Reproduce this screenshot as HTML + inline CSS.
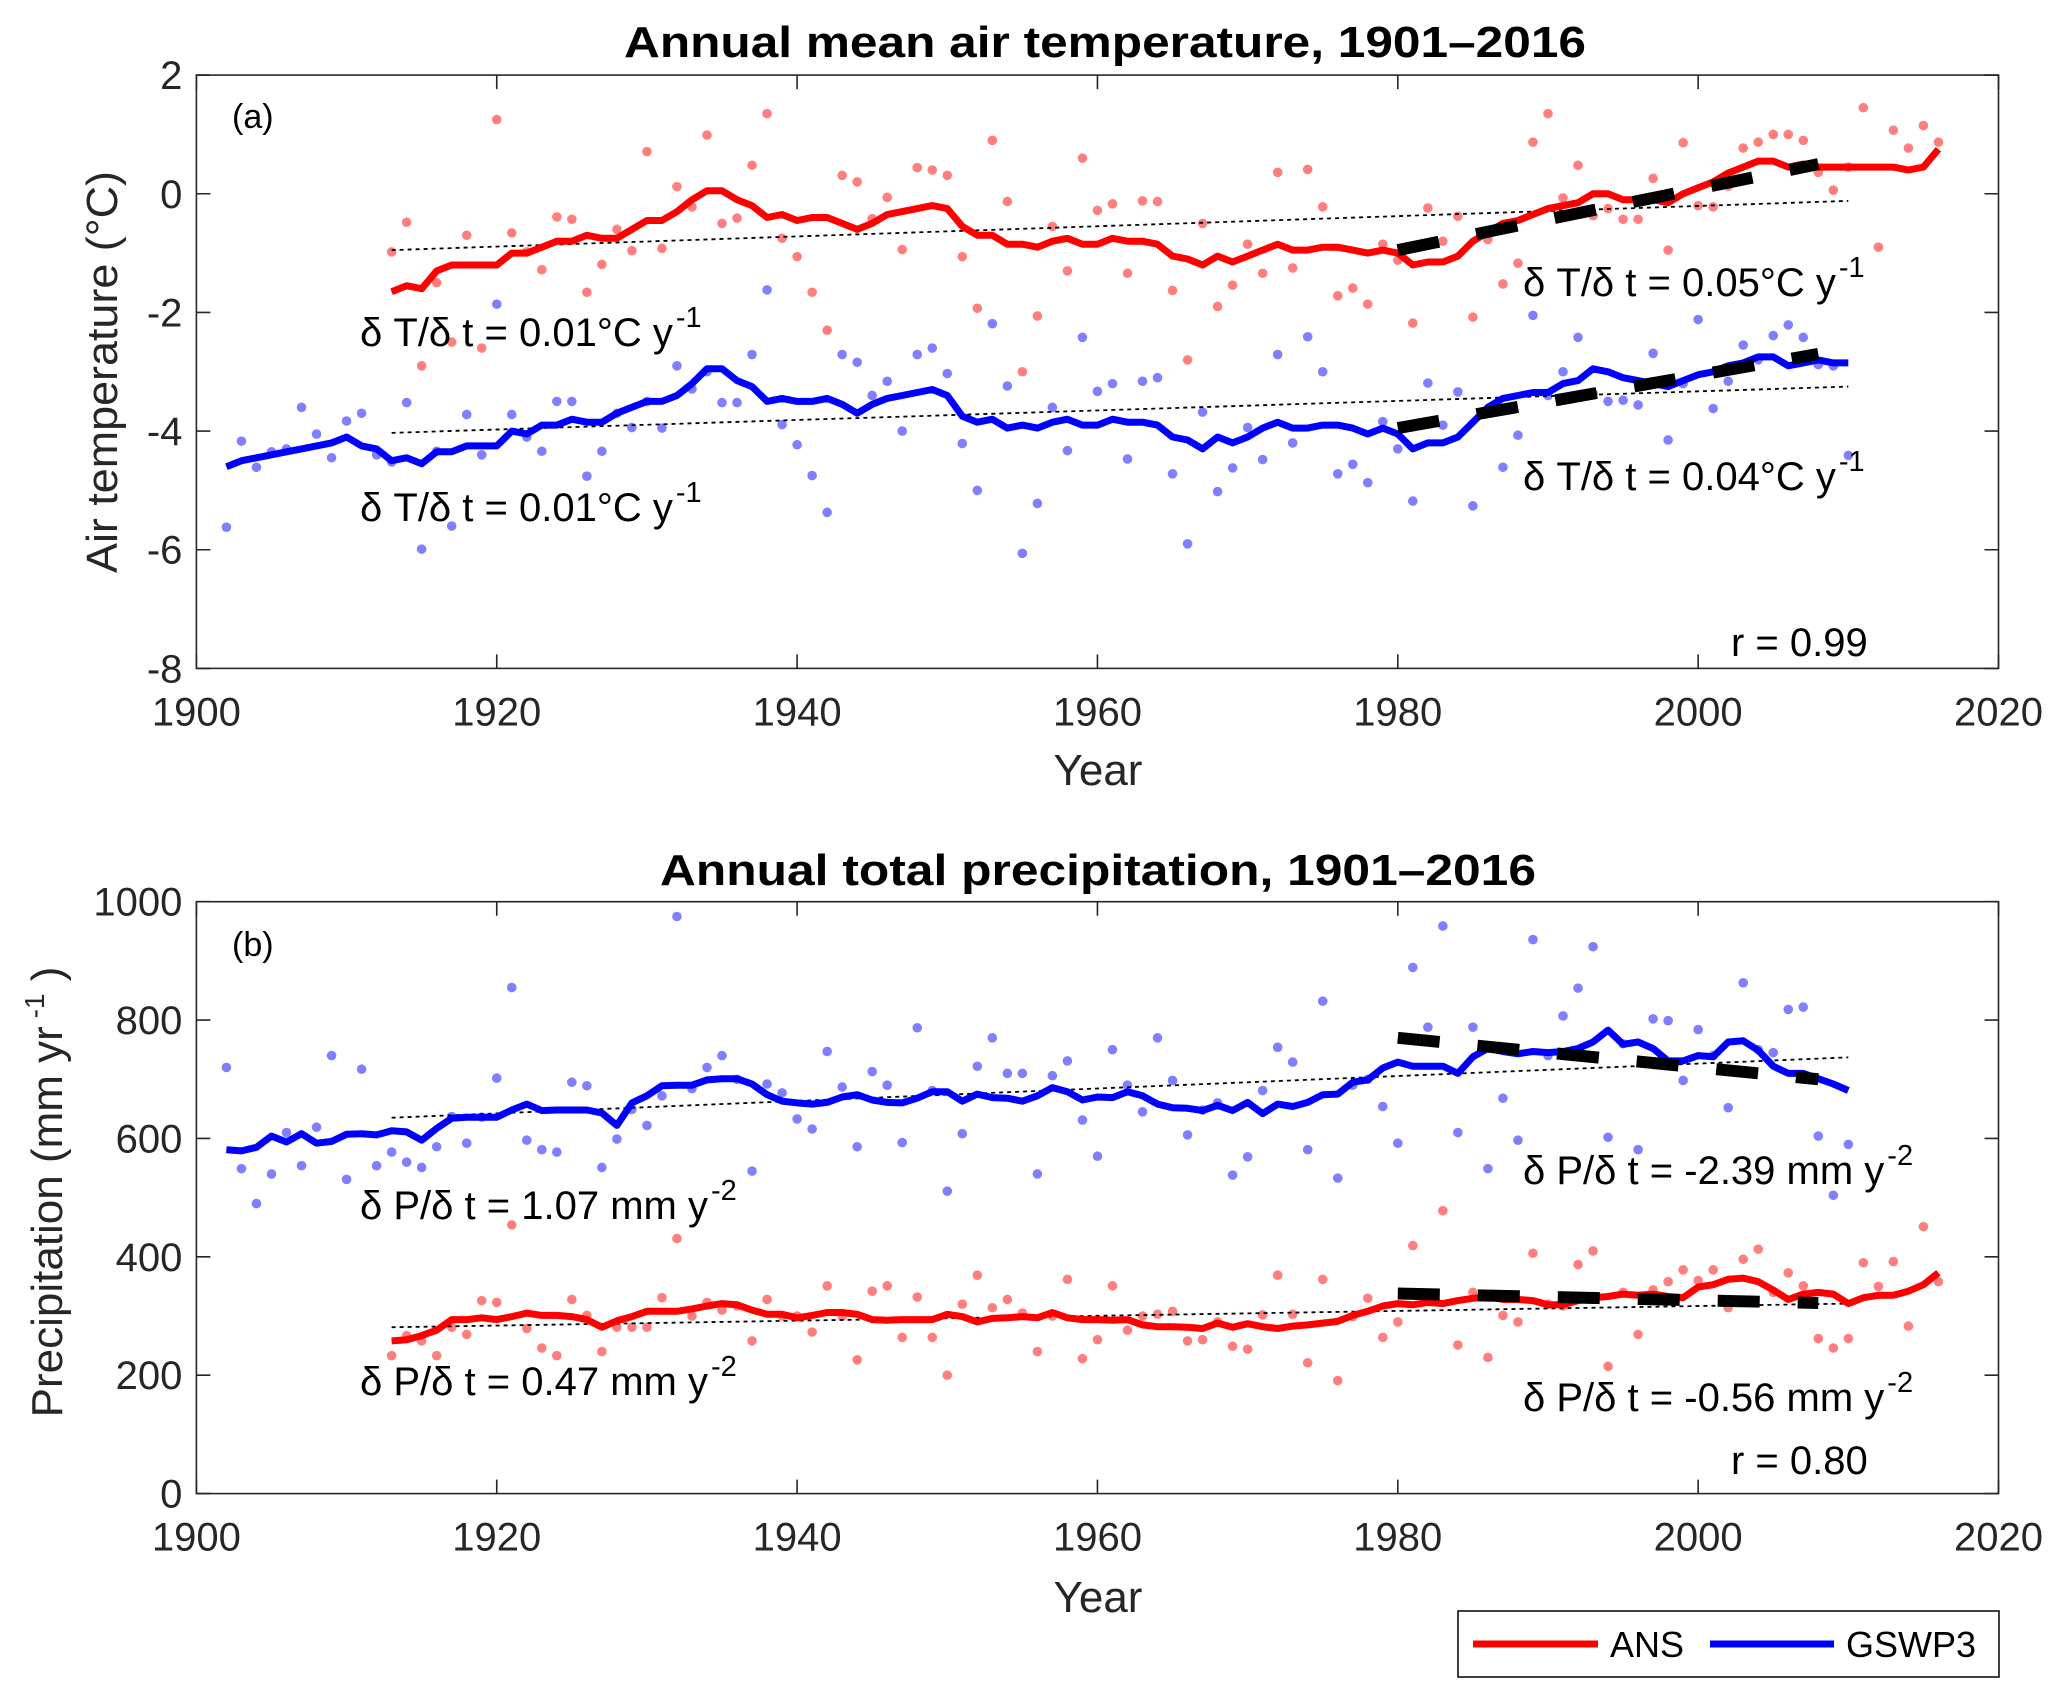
<!DOCTYPE html>
<html><head><meta charset="utf-8"><style>
html,body{margin:0;padding:0;background:#fff;}
svg{display:block;font-family:"Liberation Sans",Arial,sans-serif;}
</style></head><body>
<svg id="chart" width="2067" height="1702" viewBox="0 0 2067 1702" xmlns="http://www.w3.org/2000/svg">
<rect width="2067" height="1702" fill="#fff"/>
<g id="gA"></g>
<g id="gB"></g>
<g>
<rect x="1458" y="1611" width="541" height="66" fill="#fff" stroke="#000" stroke-width="1.5"/>
<line x1="1473" y1="1644" x2="1598" y2="1644" stroke="#ff0000" stroke-width="7"/>
<text x="1610" y="1657" font-size="36">ANS</text>
<line x1="1710" y1="1644" x2="1834" y2="1644" stroke="#0000ff" stroke-width="7"/>
<text x="1846" y="1657" font-size="36">GSWP3</text>
</g>
</svg>
<script>
// ---------- Data: Panel (a) temperature ----------
const ansTempStart = 1913;
const ansTempSmooth = [-1.65,-1.55,-1.6,-1.3,-1.2,-1.2,-1.2,-1.2,-1.0,-1.0,-0.9,-0.8,-0.8,-0.7,-0.75,-0.75,-0.6,-0.45,-0.45,-0.3,-0.1,0.05,0.05,-0.1,-0.2,-0.4,-0.35,-0.45,-0.4,-0.4,-0.5,-0.6,-0.5,-0.35,-0.3,-0.25,-0.2,-0.25,-0.55,-0.7,-0.7,-0.85,-0.85,-0.9,-0.8,-0.75,-0.85,-0.85,-0.75,-0.8,-0.8,-0.85,-1.05,-1.1,-1.2,-1.05,-1.15,-1.05,-0.95,-0.85,-0.95,-0.95,-0.9,-0.9,-0.95,-1.0,-0.95,-1.0,-1.2,-1.15,-1.15,-1.05,-0.8,-0.65,-0.5,-0.45,-0.35,-0.25,-0.2,-0.15,0.0,0.0,-0.1,-0.1,-0.1,-0.15,0.0,0.1,0.2,0.35,0.45,0.55,0.55,0.45,0.5,0.45,0.45,0.45,0.45,0.45,0.45,0.4,0.45,0.75];
const ansTempPoints = [-0.98,-0.48,-2.9,-1.5,-2.5,-0.7,-2.6,1.25,-0.66,-0.98,-1.28,-0.39,-0.43,-1.66,-1.19,-0.6,-0.96,0.71,-0.92,0.12,-0.22,0.99,-0.5,-0.41,0.48,1.35,-0.75,-1.06,-1.66,-2.3,0.31,0.2,-0.42,-0.06,-0.94,0.44,0.4,0.31,-1.06,-1.93,0.9,-0.13,-3.0,-2.06,-0.55,-1.3,0.6,-0.28,-0.17,-1.34,-0.12,-0.13,-1.63,-2.8,-0.5,-1.9,-1.54,-0.85,-1.34,0.36,-1.25,0.41,-0.22,-1.72,-1.59,-1.86,-0.85,-1.12,-2.18,-0.24,-0.8,-0.38,-2.08,-0.77,-1.52,-1.17,0.87,1.35,-0.07,0.48,-0.37,-0.25,-0.43,-0.43,0.26,-0.95,0.86,-0.2,-0.22,0.13,0.77,0.87,1.0,1.0,0.9,0.36,0.06,0.45,1.45,-0.9,1.07,0.77,1.15,0.87];
const gswTempStart = 1902;
const gswTempSmooth = [-4.6,-4.5,-4.45,-4.4,-4.35,-4.3,-4.25,-4.2,-4.1,-4.25,-4.3,-4.5,-4.45,-4.55,-4.35,-4.35,-4.25,-4.25,-4.25,-4.0,-4.05,-3.9,-3.9,-3.8,-3.85,-3.85,-3.7,-3.6,-3.5,-3.5,-3.4,-3.2,-2.95,-2.95,-3.15,-3.25,-3.5,-3.45,-3.5,-3.5,-3.45,-3.55,-3.7,-3.55,-3.45,-3.4,-3.35,-3.3,-3.4,-3.75,-3.85,-3.8,-3.95,-3.9,-3.95,-3.85,-3.8,-3.9,-3.9,-3.8,-3.85,-3.85,-3.9,-4.1,-4.15,-4.3,-4.1,-4.2,-4.1,-3.95,-3.85,-3.95,-3.95,-3.9,-3.9,-3.95,-4.05,-3.95,-4.05,-4.3,-4.2,-4.2,-4.1,-3.85,-3.6,-3.45,-3.4,-3.35,-3.35,-3.2,-3.15,-2.95,-3.0,-3.1,-3.15,-3.2,-3.25,-3.15,-3.05,-3.0,-2.9,-2.85,-2.75,-2.75,-2.9,-2.85,-2.8,-2.85,-2.85];
const gswTempPoints = [-5.62,-4.17,-4.61,-4.35,-4.3,-3.6,-4.05,-4.45,-3.83,-3.7,-4.4,-4.52,-3.52,-5.99,-4.34,-5.6,-3.72,-4.4,-1.86,-3.72,-4.1,-4.34,-3.5,-3.5,-4.76,-4.34,-3.7,-3.94,-3.5,-3.95,-2.9,-3.29,-3.0,-3.52,-3.52,-2.71,-1.62,-3.89,-4.23,-4.75,-5.37,-2.71,-2.84,-3.4,-3.16,-4.0,-2.71,-2.6,-3.03,-4.21,-5.0,-2.19,-3.24,-6.06,-5.22,-3.6,-4.33,-2.42,-3.33,-3.2,-4.47,-3.16,-3.1,-4.72,-5.9,-3.68,-5.02,-4.62,-3.94,-4.48,-2.71,-4.2,-2.41,-3.0,-4.72,-4.56,-4.87,-3.84,-4.3,-5.18,-3.19,-3.9,-3.34,-5.26,-3.7,-4.61,-4.07,-2.05,-3.4,-3.0,-2.42,-3.37,-3.5,-3.48,-3.56,-2.69,-4.15,-3.2,-2.12,-3.62,-3.16,-2.55,-2.8,-2.39,-2.21,-2.42,-2.88,-2.9,-4.41];
const tempTrendYears = [1913, 2010];
const ansTempTrend = [-0.95, -0.12];
const gswTempTrend = [-4.03, -3.25];
const recentYears = [1980, 2008];
const ansTempRecent = [-0.95, 0.5];
const gswTempRecent = [-3.95, -2.7];
const tempTicks = [2, 0, -2, -4, -6, -8];
const yearTicks = [1900, 1920, 1940, 1960, 1980, 2000, 2020];

// ---------- Data: Panel (b) precipitation ----------
const gswPrecSmooth = [581,579,585,604,594,608,592,595,607,608,606,613,611,597,617,634,636,636,636,648,658,647,648,648,648,643,622,660,672,689,690,690,699,701,701,692,674,663,660,658,661,670,674,665,661,660,668,679,679,663,675,669,668,663,672,686,679,665,670,669,679,672,658,652,651,647,656,647,661,642,658,654,661,674,675,695,699,719,729,722,722,722,710,738,752,747,743,747,745,747,752,763,783,759,763,752,731,731,740,738,763,765,749,722,710,710,701,692,681];
const gswPrecPoints = [720,549,490,540,610,554,619,740,531,717,554,577,560,551,586,637,592,636,702,855,597,581,577,695,689,551,599,649,622,672,975,684,720,740,700,545,692,677,633,616,747,687,586,713,690,593,787,681,511,608,722,770,710,710,540,706,731,631,570,750,690,645,770,698,606,648,660,538,569,681,754,729,581,832,533,690,700,654,592,889,788,959,610,788,549,668,597,936,740,807,854,924,602,760,581,802,799,698,784,740,652,863,750,745,818,822,604,504,590];
const ansPrecSmooth = [258,260,267,276,294,294,297,294,299,305,301,301,299,294,281,292,299,308,308,308,312,317,321,319,310,303,303,297,301,306,306,303,294,293,294,294,294,303,299,290,296,297,299,297,306,297,294,294,293,294,285,282,282,281,279,288,281,287,282,279,283,285,288,291,301,308,317,321,319,323,321,326,330,333,328,328,326,319,319,326,331,333,337,335,337,333,331,349,353,362,364,358,344,328,337,340,337,321,331,335,335,342,353,373];
const ansPrecPoints = [233,267,258,233,281,269,326,323,454,279,246,233,328,301,240,281,281,281,331,431,300,323,310,317,258,328,300,300,273,351,300,226,342,351,264,332,264,200,320,369,314,328,305,240,300,362,228,260,351,276,300,303,308,258,260,290,249,244,302,369,303,221,362,191,299,330,264,290,419,330,478,251,340,230,301,290,406,320,317,387,410,215,340,269,344,358,378,360,378,314,396,413,340,373,351,262,246,262,390,350,392,283,451,358];
const ansPrecTrend = [281, 321];
const gswPrecTrend = [635, 737];
const ansPrecRecent = [338, 322];
const gswPrecRecent = [770, 700];
const precTicks = [1000, 800, 600, 400, 200, 0];

// ---------- Drawing ----------
const NS = "http://www.w3.org/2000/svg";
const AX_L = 196.4, AX_R = 1998.5;
function mk(parent, tag, attrs) {
  const e = document.createElementNS(NS, tag);
  for (const k in attrs) e.setAttribute(k, attrs[k]);
  parent.appendChild(e);
  return e;
}
function xScale(yr) { return AX_L + (yr - 1900) / 120 * (AX_R - AX_L); }

function drawPanel(g, top, bottom, yMin, yMax, yTicks, cfg) {
  const yS = v => bottom - (v - yMin) / (yMax - yMin) * (bottom - top);
  const box = mk(g, 'rect', {x: AX_L, y: top, width: AX_R - AX_L, height: bottom - top, fill: 'none', stroke: '#262626', 'stroke-width': 1.6});
  
  
  yearTicks.forEach(t => {
    const x = xScale(t);
    const tk = mk(g, 'path', {d: `M${x},${bottom}V${bottom - 14}M${x},${top}V${top + 14}`, stroke: '#262626', 'stroke-width': 1.6});
    
    
    const lb = mk(g, 'text', {x: x, y: bottom + 57, 'font-size': 40, 'text-anchor': 'middle', fill: '#262626'});
    lb.textContent = t;
    
    
  });
  yTicks.forEach(t => {
    const y = yS(t);
    const tk = mk(g, 'path', {d: `M${AX_L},${y}H${AX_L + 14}M${AX_R},${y}H${AX_R - 14}`, stroke: '#262626', 'stroke-width': 1.6});
    
    
    const lb = mk(g, 'text', {x: AX_L - 14, y: y + 14, 'font-size': 40, 'text-anchor': 'end', fill: '#262626'});
    lb.textContent = t;
    
    
  });
  cfg.points.forEach(s => {
    s.vals.forEach((v, i) => {
      const c = mk(g, 'circle', {cx: xScale(s.start + i), cy: yS(v), r: 4.8, fill: s.color});
      
      
    });
  });
  cfg.trends.forEach(t => {
    const l = mk(g, 'line', {x1: xScale(tempTrendYears[0]), y1: yS(t.vals[0]), x2: xScale(tempTrendYears[1]), y2: yS(t.vals[1]), stroke: '#000', 'stroke-width': 1.8, 'stroke-dasharray': '4 4'});
    
    
  });
  cfg.lines.forEach(s => {
    const d = s.vals.map((v, i) => (i ? 'L' : 'M') + xScale(s.start + i).toFixed(1) + ',' + yS(v).toFixed(1)).join('');
    const p = mk(g, 'path', {d: d, fill: 'none', stroke: s.color, 'stroke-width': 7, 'stroke-linejoin': 'round'});
    
    
  });
  cfg.recent.forEach(t => {
    const l = mk(g, 'line', {x1: xScale(recentYears[0]), y1: yS(t.vals[0]), x2: xScale(recentYears[1]), y2: yS(t.vals[1]), stroke: '#000', 'stroke-width': 12, 'stroke-dasharray': '42 38'});
    
    
  });
  cfg.texts.forEach(t => {
    const e = mk(g, 'text', {x: t.x, y: t.y, 'font-size': t.fs || 40, fill: '#000'});
    if (t.sup) {
      e.textContent = t.txt;
      const sp = mk(e, 'tspan', {dy: -19, 'font-size': 29, dx: 3});
      sp.textContent = t.sup;
    } else e.textContent = t.txt;
    
    
  });
}

const RED_PT = '#ff7f7f', BLUE_PT = '#7f7fff';
drawPanel(document.getElementById('gA'), 75.1, 668.4, -8, 2, tempTicks, {
  id: 'temp',
  points: [{start: 1913, vals: ansTempPoints, color: RED_PT, name: 'ans-temp'}, {start: 1902, vals: gswTempPoints, color: BLUE_PT, name: 'gswp3-temp'}],
  trends: [{vals: ansTempTrend, name: 'ans-temp-trend'}, {vals: gswTempTrend, name: 'gswp3-temp-trend'}],
  lines: [{start: ansTempStart, vals: ansTempSmooth, color: '#ff0000', name: 'ans-temp-line'}, {start: gswTempStart, vals: gswTempSmooth, color: '#0000ff', name: 'gswp3-temp-line'}],
  recent: [{vals: ansTempRecent, name: 'ans-temp-recent-trend'}, {vals: gswTempRecent, name: 'gswp3-temp-recent-trend'}],
  texts: [
    {x: 232, y: 128, txt: '(a)', fs: 34, name: 'panel-a-label'},
    {x: 360, y: 346, txt: 'δ T/δ t = 0.01°C y', sup: '-1', name: 'ans-temp-trend-label'},
    {x: 360, y: 521, txt: 'δ T/δ t = 0.01°C y', sup: '-1', name: 'gswp3-temp-trend-label'},
    {x: 1523, y: 296, txt: 'δ T/δ t = 0.05°C y', sup: '-1', name: 'ans-temp-recent-label'},
    {x: 1523, y: 490, txt: 'δ T/δ t = 0.04°C y', sup: '-1', name: 'gswp3-temp-recent-label'},
    {x: 1731, y: 656, txt: 'r = 0.99', name: 'temp-correlation'}
  ]
});
drawPanel(document.getElementById('gB'), 901.7, 1493.6, 0, 1000, precTicks, {
  id: 'prec',
  points: [{start: 1913, vals: ansPrecPoints, color: RED_PT, name: 'ans-prec'}, {start: 1902, vals: gswPrecPoints, color: BLUE_PT, name: 'gswp3-prec'}],
  trends: [{vals: ansPrecTrend, name: 'ans-prec-trend'}, {vals: gswPrecTrend, name: 'gswp3-prec-trend'}],
  lines: [{start: 1913, vals: ansPrecSmooth, color: '#ff0000', name: 'ans-prec-line'}, {start: 1902, vals: gswPrecSmooth, color: '#0000ff', name: 'gswp3-prec-line'}],
  recent: [{vals: ansPrecRecent, name: 'ans-prec-recent-trend'}, {vals: gswPrecRecent, name: 'gswp3-prec-recent-trend'}],
  texts: [
    {x: 232, y: 956, txt: '(b)', fs: 34, name: 'panel-b-label'},
    {x: 360, y: 1219, txt: 'δ P/δ t = 1.07 mm y', sup: '-2', name: 'gswp3-prec-trend-label'},
    {x: 1523, y: 1184, txt: 'δ P/δ t = -2.39 mm y', sup: '-2', name: 'gswp3-prec-recent-label'},
    {x: 360, y: 1395, txt: 'δ P/δ t = 0.47 mm y', sup: '-2', name: 'ans-prec-trend-label'},
    {x: 1523, y: 1411, txt: 'δ P/δ t = -0.56 mm y', sup: '-2', name: 'ans-prec-recent-label'},
    {x: 1731, y: 1474, txt: 'r = 0.80', name: 'prec-correlation'}
  ]
});

const svg = document.getElementById('chart');
function label(attrs, txt, name) {
  const e = mk(svg, 'text', attrs);
  e.textContent = txt;
  
  
  return e;
}
label({x: 1105, y: 57, 'font-size': 44, 'font-weight': 'bold', 'text-anchor': 'middle', textLength: 962, lengthAdjust: 'spacingAndGlyphs'}, 'Annual mean air temperature, 1901–2016', 'temp-title');
label({x: 1098, y: 885, 'font-size': 44, 'font-weight': 'bold', 'text-anchor': 'middle', textLength: 876, lengthAdjust: 'spacingAndGlyphs'}, 'Annual total precipitation, 1901–2016', 'prec-title');
label({x: 1098, y: 785, 'font-size': 44, 'text-anchor': 'middle', fill: '#262626'}, 'Year', 'temp-x-axis-title');
label({x: 1098, y: 1612, 'font-size': 44, 'text-anchor': 'middle', fill: '#262626'}, 'Year', 'prec-x-axis-title');
label({x: 0, y: 0, 'font-size': 44, 'text-anchor': 'middle', fill: '#262626', transform: 'translate(117,372) rotate(-90)', textLength: 402, lengthAdjust: 'spacingAndGlyphs'}, 'Air  temperature (°C)', 'temp-y-axis-title');
const pl = label({x: 0, y: 0, 'font-size': 44, 'text-anchor': 'middle', fill: '#262626', transform: 'translate(62,1192) rotate(-90)'}, 'Precipitation (mm yr', 'prec-y-axis-title');
const sp1 = mk(pl, 'tspan', {dy: -18, 'font-size': 28}); sp1.textContent = ' -1';
const sp2 = mk(pl, 'tspan', {dy: 18}); sp2.textContent = ' )';
</script>
</body></html>
